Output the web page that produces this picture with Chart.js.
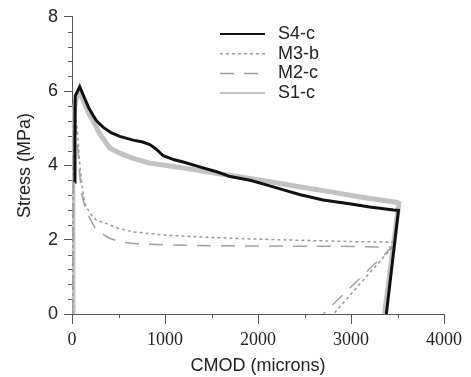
<!DOCTYPE html>
<html>
<head>
<meta charset="utf-8">
<script src="https://cdn.jsdelivr.net/npm/chart.js@4/dist/chart.umd.min.js"></script>
<style>
  html, body { margin: 0; padding: 0; background: #fff; }
  #wrap { width: 471px; height: 377px; }
</style>
</head>
<body>
<div id="wrap"><canvas id="stressChart" width="471" height="377"></canvas></div>
<script>
// CMOD (microns) vs stress (MPa)
const s4cX = [30, 32, 35, 60, 83, 120, 180, 226, 263, 334, 420, 514, 656, 760, 837, 900, 981, 1100, 1196, 1400, 1556, 1700, 1915, 2100, 2274, 2456, 2700, 3000, 3200, 3459, 3510, 3380];
const s4cY = [3.55, 4.8, 5.87, 6.0, 6.12, 5.9, 5.55, 5.35, 5.2, 5.03, 4.88, 4.78, 4.68, 4.63, 4.56, 4.45, 4.26, 4.15, 4.09, 3.94, 3.83, 3.7, 3.6, 3.47, 3.34, 3.21, 3.07, 2.96, 2.88, 2.8, 2.79, 0];

const m3bX = [5, 20, 55, 70, 85, 110, 137, 190, 263, 334, 493, 657, 1014, 1500, 1807, 2500, 3000, 3490, 2810];
const m3bY = [0, 5.6, 5.0, 4.5, 4.0, 3.4, 2.98, 2.72, 2.52, 2.47, 2.31, 2.21, 2.12, 2.06, 2.03, 1.98, 1.95, 1.93, 0];

const m2cX = [5, 20, 50, 75, 100, 140, 191, 263, 406, 514, 657, 1014, 1500, 2000, 3000, 3440, 2700];
const m2cY = [0, 5.5, 4.8, 4.0, 3.3, 2.85, 2.58, 2.25, 2.04, 1.94, 1.9, 1.86, 1.84, 1.83, 1.82, 1.8, 0];

const s1cX = [5, 10, 15, 30, 50, 83, 120, 180, 226, 300, 406, 514, 657, 837, 1014, 1196, 1373, 1556, 1732, 1915, 2274, 2456, 2800, 3100, 3495, 3515, 3360];
const s1cY = [0, 3.5, 5.0, 5.6, 5.85, 5.97, 5.75, 5.4, 5.2, 4.85, 4.47, 4.33, 4.19, 4.06, 4.0, 3.93, 3.86, 3.78, 3.72, 3.65, 3.5, 3.42, 3.28, 3.15, 3.0, 2.98, 0];

const seriesNames = ["S4-c", "M3-b", "M2-c", "S1-c"];
const xMinor = [500, 1500, 2500, 3500];
const yMinor = [0.4, 0.8, 1.2, 1.6, 2.4, 2.8, 3.2, 3.6, 4.4, 4.8, 5.2, 5.6, 6.4, 6.8, 7.2, 7.6];

function pts(xs, ys){
  return xs.map((x, i) => ({ x: x, y: ys[i] }));
}

// short minor ticks outside the axes
const minorTicks = {
  id: "minorTicks",
  afterDraw(chart){
    const { ctx, scales: { x, y } } = chart;
    ctx.save();
    ctx.strokeStyle = "#555";
    ctx.lineWidth = 1;
    ctx.beginPath();
    xMinor.forEach(v => {
      const px = Math.round(x.getPixelForValue(v)) + 0.5;
      ctx.moveTo(px, x.top); ctx.lineTo(px, x.top + 4);
    });
    yMinor.forEach(v => {
      const py = Math.round(y.getPixelForValue(v)) + 0.5;
      ctx.moveTo(y.right - 4, py); ctx.lineTo(y.right, py);
    });
    ctx.stroke();
    ctx.restore();
  }
};

// legend in the upper right, lines + labels
const lineLegend = {
  id: "lineLegend",
  afterDraw(chart){
    const ctx = chart.ctx;
    ctx.save();
    ctx.font = "18px 'Liberation Sans', Arial, sans-serif";
    ctx.textBaseline = "middle";
    ctx.fillStyle = "#222";
    chart.data.datasets.forEach((ds, i) => {
      const yy = 34 + i * 19.7;
      ctx.strokeStyle = ds.borderColor;
      ctx.lineWidth = Math.min(ds.borderWidth, 2);
      ctx.setLineDash(ds.borderDash || []);
      ctx.beginPath();
      ctx.moveTo(220, yy); ctx.lineTo(265, yy);
      ctx.stroke();
      ctx.fillText(ds.label, 278, yy);
    });
    ctx.restore();
  }
};

const ctx = document.getElementById("stressChart").getContext("2d");
new Chart(ctx, {
  type: "line",
  data: {
    datasets: [
      { label: seriesNames[0], data: pts(s4cX, s4cY), borderColor: "#111", borderWidth: 3 },
      { label: seriesNames[1], data: pts(m3bX, m3bY), borderColor: "#999", borderWidth: 1.5, borderDash: [3, 3] },
      { label: seriesNames[2], data: pts(m2cX, m2cY), borderColor: "#a0a0a0", borderWidth: 1.5, borderDash: [14, 10] },
      { label: seriesNames[3], data: pts(s1cX, s1cY), borderColor: "#c2c2c2", borderWidth: 5 }
    ]
  },
  options: {
    responsive: false,
    animation: false,
    events: [],
    layout: { padding: { top: 16, right: 27, left: 0, bottom: 0 } },
    elements: { point: { radius: 0 }, line: { tension: 0, borderCapStyle: "butt" } },
    plugins: { legend: { display: false }, tooltip: { enabled: false } },
    scales: {
      x: {
        type: "linear", min: 0, max: 4000,
        afterFit(scale){ scale.height = 63; },
        border: { color: "#555", width: 1 },
        grid: { drawOnChartArea: false, tickLength: 10, color: "#555" },
        ticks: { stepSize: 1000, padding: 5, color: "#222", callback: v => String(v), font: { family: "'Liberation Serif', 'Times New Roman', serif", size: 18 } },
        title: { display: true, text: "CMOD (microns)", color: "#222", padding: { top: 1, bottom: 0 }, font: { family: "'Liberation Sans', Arial, sans-serif", size: 18 } }
      },
      y: {
        min: 0, max: 8,
        afterFit(scale){ scale.width = 72; },
        border: { color: "#555", width: 1 },
        grid: { drawOnChartArea: false, tickLength: 8, color: "#555" },
        ticks: { stepSize: 2, padding: 6, color: "#222", font: { family: "'Liberation Sans', Arial, sans-serif", size: 18 } },
        title: { display: true, text: "Stress (MPa)", color: "#222", padding: { top: 14, bottom: 0 }, font: { family: "'Liberation Sans', Arial, sans-serif", size: 18 } }
      }
    }
  },
  plugins: [minorTicks, lineLegend]
});
</script>
</body>
</html>
